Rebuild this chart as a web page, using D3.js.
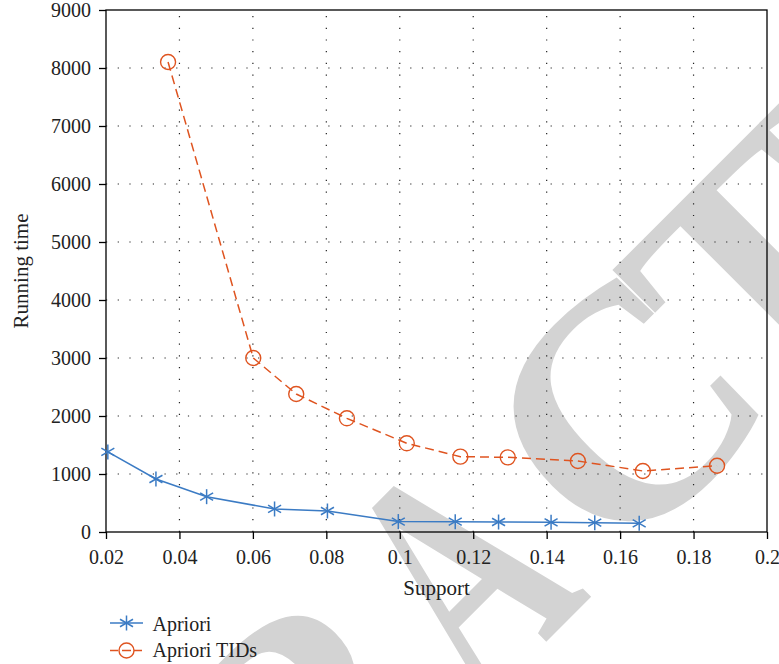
<!DOCTYPE html>
<html>
<head>
<meta charset="utf-8">
<script src="https://cdn.jsdelivr.net/npm/d3@7"></script>
<style>
  html, body { margin: 0; padding: 0; background: #fff; }
  svg { display: block; }
  text { font-family: "Liberation Serif", "DejaVu Serif", serif; fill: #222; }
</style>
</head>
<body>
<svg id="chart" width="779" height="664"></svg>
<script>
// values
const aprioriSupport = [0.0205, 0.0336, 0.0474, 0.0659, 0.0803, 0.0996, 0.1151, 0.1269, 0.1412, 0.1531, 0.1652];
const aprioriTime = [1380, 914, 609, 397, 362, 180, 178, 172, 167, 160, 150];

const tidsSupport = [0.0369, 0.0601, 0.0718, 0.0856, 0.1019, 0.1165, 0.1294, 0.1485, 0.1662, 0.1864];
const tidsTime = [8103, 3000, 2379, 1960, 1529, 1299, 1287, 1224, 1052, 1143];

const xTicks = [0.02, 0.04, 0.06, 0.08, 0.1, 0.12, 0.14, 0.16, 0.18, 0.2];
const xTickLabels = ["0.02", "0.04", "0.06", "0.08", "0.1", "0.12", "0.14", "0.16", "0.18", "0.2"];
const yTicks = [0, 1000, 2000, 3000, 4000, 5000, 6000, 7000, 8000, 9000];

const seriesNames = ["Apriori", "Apriori TIDs"];

// watermark pieces (letters, centres along the rotated baseline)
const markHead = "RETR";
const markHeadX = [-840, -650, -480, -295];
const markMid = "A";
const markMidX = -81;
const markTail = "CTED";
const markTailX = [150, 347, 554, 760];

// plot box
const plotLeft = 106, plotRight = 767, plotTop = 10, plotBottom = 532;

const blue = "#3b7bc4";
const orange = "#df5420";

const x = d3.scaleLinear().domain([0.02, 0.2]).range([plotLeft, plotRight]);
const y = d3.scaleLinear().domain([0, 9000]).range([plotBottom, plotTop]);

const svg = d3.select("#chart");

// watermark, behind everything
const mark = svg.append("g")
  .attr("transform", "rotate(-45)")
  .style("font-family", "'Liberation Sans', Arial, sans-serif")
  .style("font-weight", "bold")
  .style("font-size", "330px");

mark.append("text")
  .attr("x", markHeadX.join(" ")).attr("y", 840)
  .attr("text-anchor", "middle")
  .style("fill", "#d3d3d3")
  .text(markHead);

mark.append("text")
  .attr("transform", `translate(${markMidX},840) scale(0.66,1)`)
  .attr("text-anchor", "middle")
  .style("fill", "#d3d3d3")
  .text(markMid);

mark.append("text")
  .attr("x", markTailX.join(" ")).attr("y", 840)
  .attr("text-anchor", "middle")
  .style("fill", "#d3d3d3")
  .text(markTail);

const g = svg.append("g");

// dotted grid
g.append("g").selectAll("line")
  .data(xTicks.slice(1, -1))
  .join("line")
  .attr("x1", d => x(d)).attr("x2", d => x(d))
  .attr("y1", plotBottom).attr("y2", plotTop)
  .attr("stroke", "#222").attr("stroke-width", 1.2)
  .attr("stroke-dasharray", "1.2,10.5");

g.append("g").selectAll("line")
  .data(yTicks.slice(1, -1))
  .join("line")
  .attr("x1", plotLeft).attr("x2", plotRight)
  .attr("y1", d => y(d)).attr("y2", d => y(d))
  .attr("stroke", "#222").attr("stroke-width", 1.2)
  .attr("stroke-dasharray", "1.2,10.5");

// axes
const xAxis = d3.axisBottom(x)
  .tickValues(xTicks)
  .tickSize(7)
  .tickPadding(11)
  .tickFormat((d, i) => xTickLabels[i]);

const yAxis = d3.axisLeft(y)
  .tickValues(yTicks)
  .tickSize(7)
  .tickPadding(8)
  .tickFormat(d3.format("d"));

const gx = g.append("g").attr("transform", `translate(0,${plotBottom})`).call(xAxis);
const gy = g.append("g").attr("transform", `translate(${plotLeft},0)`).call(yAxis);

[gx, gy].forEach(a => {
  a.select(".domain").remove();
  a.selectAll(".tick line").attr("stroke", "#000").attr("stroke-width", 1.3);
  a.selectAll(".tick text")
    .style("font-family", "'Liberation Serif', serif")
    .style("font-size", "20px")
    .attr("fill", "#222");
});

// frame
g.append("rect")
  .attr("x", plotLeft).attr("y", plotTop)
  .attr("width", plotRight - plotLeft).attr("height", plotBottom - plotTop)
  .attr("fill", "none").attr("stroke", "#000").attr("stroke-width", 1.3);

// axis titles
g.append("text")
  .attr("x", (plotLeft + plotRight) / 2)
  .attr("y", 595)
  .attr("text-anchor", "middle")
  .style("font-size", "21px")
  .text("Support");

g.append("text")
  .attr("transform", "translate(28,271) rotate(-90)")
  .attr("text-anchor", "middle")
  .style("font-size", "21px")
  .text("Running time");

// series
const apriori = aprioriSupport.map((s, i) => [s, aprioriTime[i]]);
const tids = tidsSupport.map((s, i) => [s, tidsTime[i]]);

const line = d3.line().x(d => x(d[0])).y(d => y(d[1]));

g.append("path")
  .datum(tids)
  .attr("d", line)
  .attr("fill", "none")
  .attr("stroke", orange)
  .attr("stroke-width", 1.5)
  .attr("stroke-dasharray", "9,5");

g.append("path")
  .datum(apriori)
  .attr("d", line)
  .attr("fill", "none")
  .attr("stroke", blue)
  .attr("stroke-width", 1.5);

// asterisk marker: three strokes through the centre
function star(sel, r) {
  [90, 30, 150].forEach(a => {
    const rad = a * Math.PI / 180;
    sel.append("line")
      .attr("x1", -r * Math.cos(rad)).attr("y1", -r * Math.sin(rad))
      .attr("x2", r * Math.cos(rad)).attr("y2", r * Math.sin(rad))
      .attr("stroke", blue).attr("stroke-width", 1.5);
  });
}

g.append("g").selectAll("circle")
  .data(tids)
  .join("circle")
  .attr("cx", d => x(d[0]))
  .attr("cy", d => y(d[1]))
  .attr("r", 7.5)
  .attr("fill", "none")
  .attr("stroke", orange)
  .attr("stroke-width", 1.4);

g.append("g").selectAll("g")
  .data(apriori)
  .join("g")
  .attr("transform", d => `translate(${x(d[0])},${y(d[1])})`)
  .each(function() { star(d3.select(this), 7.5); });

// legend
const legend = svg.append("g");
const legendRows = [623, 650.5];

const row0 = legend.append("g").attr("transform", `translate(0,${legendRows[0]})`);
row0.append("line").attr("x1", 110).attr("x2", 143).attr("stroke", blue).attr("stroke-width", 1.5);
star(row0.append("g").attr("transform", "translate(126.5,0)"), 7.5);
row0.append("text").attr("x", 152.5).attr("y", 7.5).style("font-size", "20px").text(seriesNames[0]);

const row1 = legend.append("g").attr("transform", `translate(0,${legendRows[1]})`);
row1.append("line").attr("x1", 110).attr("x2", 143).attr("stroke", orange).attr("stroke-width", 1.5)
  .attr("stroke-dasharray", "8,4");
row1.append("circle").attr("cx", 126.5).attr("r", 7.5).attr("fill", "#fff").attr("stroke", orange).attr("stroke-width", 1.4);
row1.append("line").attr("x1", 122).attr("x2", 131).attr("stroke", orange).attr("stroke-width", 1.5);
row1.append("text").attr("x", 152.5).attr("y", 6.5).style("font-size", "20px").text(seriesNames[1]);
</script>
</body>
</html>
